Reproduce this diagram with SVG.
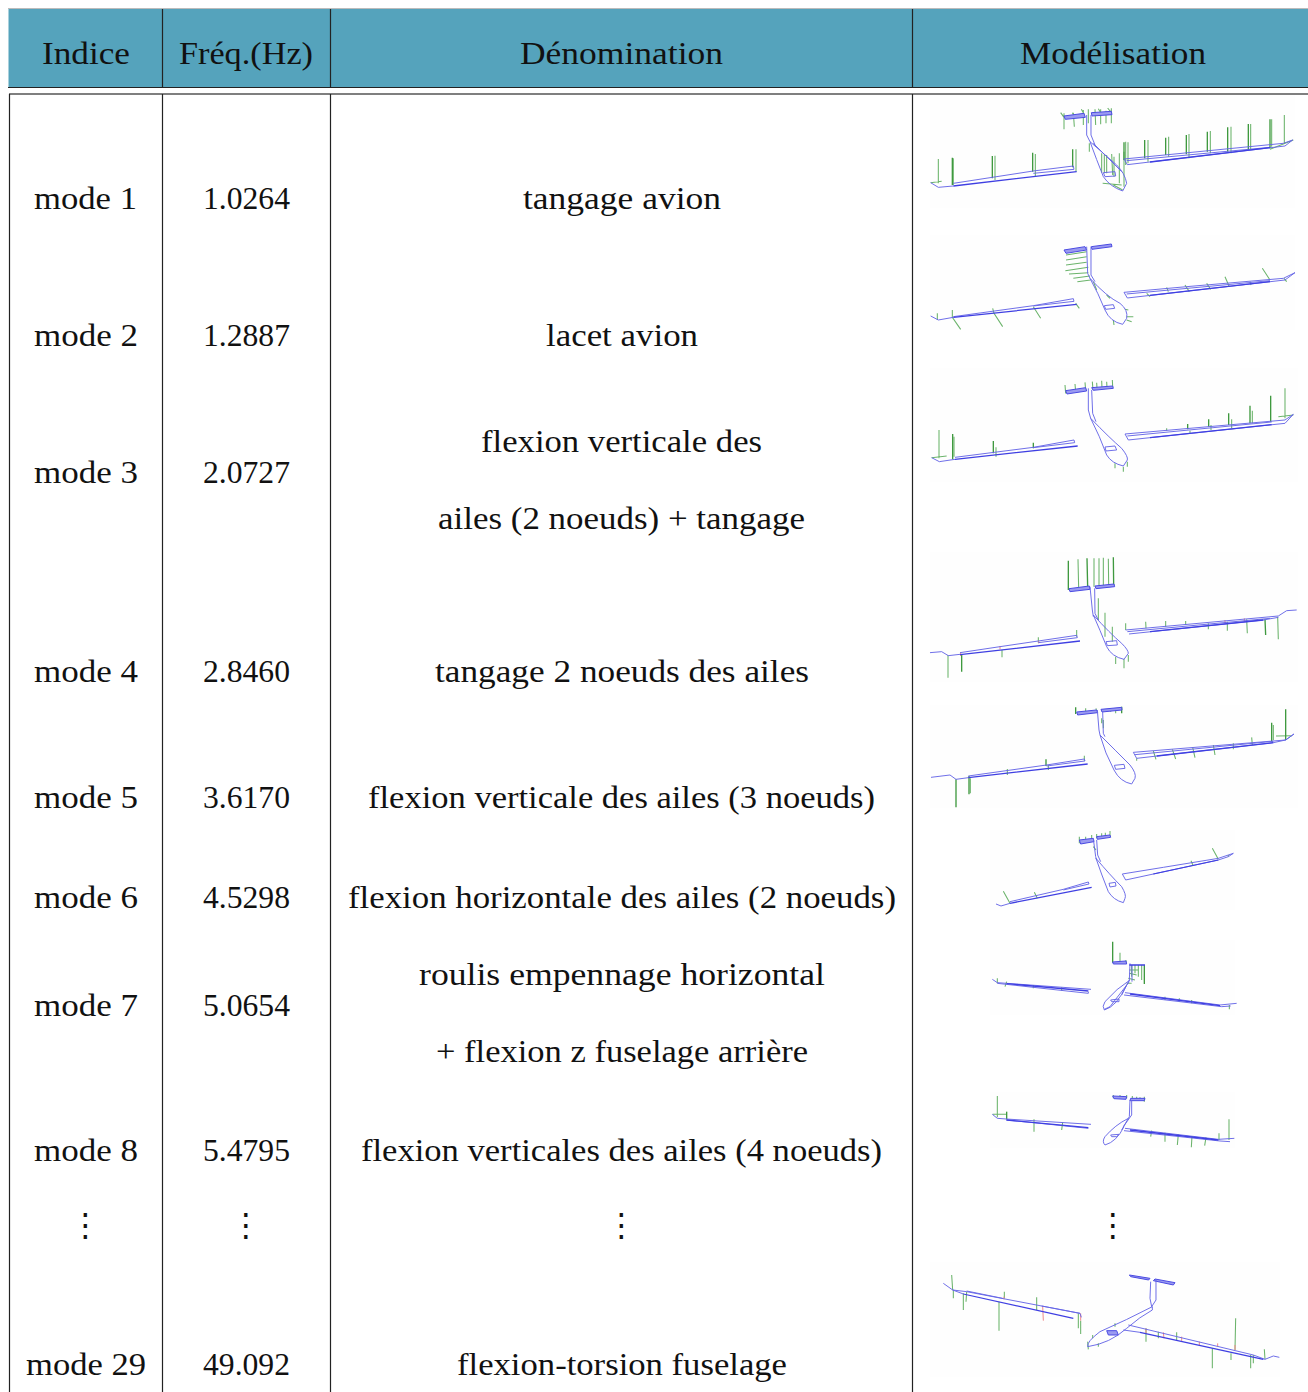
<svg xmlns="http://www.w3.org/2000/svg" width="1308" height="1392" viewBox="0 0 1308 1392">
<style>
text{font-family:"Liberation Serif","Times New Roman",serif;font-size:32px;fill:#111;text-anchor:start}
.d{font-family:"DejaVu Sans",sans-serif;font-size:32px;text-anchor:middle}
.rule{stroke:#222;stroke-width:1.2;fill:none}
.b{fill:none;stroke:#6464e6;stroke-width:2.8;stroke-linejoin:round}
.k{fill:none;stroke:#3f3fe2;stroke-width:3.8}
.t{fill:#9a9af0;stroke:#4a4ae2;stroke-width:3}
.g{fill:none;stroke:#6cb46c;stroke-width:3.2}
.h{fill:none;stroke:#3f993f;stroke-width:4}
.r{fill:none;stroke:#f08a8a;stroke-width:3}
.bg{fill:#fefefe}
</style>
<rect width="1308" height="1392" fill="#fff"/>
<g id="header">
<rect x="8.5" y="9" width="1299.5" height="78" fill="#55a3bc"/>
<path d="M8 8.5H1308" stroke="#bbb" stroke-width="1" fill="none"/>
<path class="rule" d="M8 87.5H1308M162.5 9V87M330.5 9V87M912.5 9V87"/>
<text x="42" y="64" textLength="88" lengthAdjust="spacingAndGlyphs">Indice</text>
<text x="179" y="64" textLength="134" lengthAdjust="spacingAndGlyphs">Fréq.(Hz)</text>
<text x="520" y="64" textLength="203" lengthAdjust="spacingAndGlyphs">Dénomination</text>
<text x="1020" y="64" textLength="186" lengthAdjust="spacingAndGlyphs">Modélisation</text>
</g>
<g id="grid">
<path d="M9 94H1308" stroke="#555" stroke-width="1.4" fill="none"/>
<path class="rule" d="M9.5 94V1392M162.5 94V1392M330.5 94V1392M912.5 94V1392"/>
</g>
<g id="mode1">
<text x="34" y="209" textLength="103" lengthAdjust="spacingAndGlyphs">mode 1</text>
<text x="203" y="209" textLength="87" lengthAdjust="spacingAndGlyphs">1.0264</text>
<text x="523" y="209" textLength="198" lengthAdjust="spacingAndGlyphs">tangage avion</text>
</g>
<g id="mode2">
<text x="34" y="346" textLength="104" lengthAdjust="spacingAndGlyphs">mode 2</text>
<text x="203" y="346" textLength="87" lengthAdjust="spacingAndGlyphs">1.2887</text>
<text x="546" y="346" textLength="152" lengthAdjust="spacingAndGlyphs">lacet avion</text>
</g>
<g id="mode3">
<text x="34" y="483" textLength="104" lengthAdjust="spacingAndGlyphs">mode 3</text>
<text x="203" y="483" textLength="87" lengthAdjust="spacingAndGlyphs">2.0727</text>
<text x="481" y="452" textLength="281" lengthAdjust="spacingAndGlyphs">flexion verticale des</text>
<text x="438" y="529" textLength="367" lengthAdjust="spacingAndGlyphs">ailes (2 noeuds) + tangage</text>
</g>
<g id="mode4">
<text x="34" y="682" textLength="104" lengthAdjust="spacingAndGlyphs">mode 4</text>
<text x="203" y="682" textLength="87" lengthAdjust="spacingAndGlyphs">2.8460</text>
<text x="435" y="682" textLength="374" lengthAdjust="spacingAndGlyphs">tangage 2 noeuds des ailes</text>
</g>
<g id="mode5">
<text x="34" y="808" textLength="104" lengthAdjust="spacingAndGlyphs">mode 5</text>
<text x="203" y="808" textLength="87" lengthAdjust="spacingAndGlyphs">3.6170</text>
<text x="368" y="808" textLength="507" lengthAdjust="spacingAndGlyphs">flexion verticale des ailes (3 noeuds)</text>
</g>
<g id="mode6">
<text x="34" y="908" textLength="104" lengthAdjust="spacingAndGlyphs">mode 6</text>
<text x="203" y="908" textLength="87" lengthAdjust="spacingAndGlyphs">4.5298</text>
<text x="348" y="908" textLength="548" lengthAdjust="spacingAndGlyphs">flexion horizontale des ailes (2 noeuds)</text>
</g>
<g id="mode7">
<text x="34" y="1016" textLength="104" lengthAdjust="spacingAndGlyphs">mode 7</text>
<text x="203" y="1016" textLength="87" lengthAdjust="spacingAndGlyphs">5.0654</text>
<text x="419" y="985" textLength="406" lengthAdjust="spacingAndGlyphs">roulis empennage horizontal</text>
<text x="436" y="1062" textLength="372" lengthAdjust="spacingAndGlyphs">+ flexion z fuselage arrière</text>
</g>
<g id="mode8">
<text x="34" y="1161" textLength="104" lengthAdjust="spacingAndGlyphs">mode 8</text>
<text x="203" y="1161" textLength="87" lengthAdjust="spacingAndGlyphs">5.4795</text>
<text x="361" y="1161" textLength="521" lengthAdjust="spacingAndGlyphs">flexion verticales des ailes (4 noeuds)</text>
</g>
<g id="dots">
<text class="d" x="85.5" y="1236">⋮</text>
<text class="d" x="246" y="1236">⋮</text>
<text class="d" x="621.5" y="1236">⋮</text>
<text class="d" x="1113" y="1236">⋮</text>
</g>
<g id="mode29">
<text x="26" y="1375" textLength="120" lengthAdjust="spacingAndGlyphs">mode 29</text>
<text x="203" y="1375" textLength="87" lengthAdjust="spacingAndGlyphs">49.092</text>
<text x="457" y="1375" textLength="330" lengthAdjust="spacingAndGlyphs">flexion-torsion fuselage</text>
</g>
<g id="plane1" transform="translate(920 90) scale(.33333)">
<rect class="bg" x="30" y="15" width="1095" height="340"/>
<path class="g" d="M55 207V280M100 205V285M225 197V270M346 192V258M468 178V245M1093 75V160M1055 88V170M992 102V178M933 110V190M871 123V190M807 132V205M746 140V200M684 150V215M624 157V220M617 155V225M432 70V118M460 68L463 110M490 60V105M505 58V100M525 58L527 105M542 58V103M558 62V100M574 55V100M545 190V248M553 193V250M560 195V250M575 192L578 255M582 200V260M598 190V280M612 185V290M508 160V185M548 280L605 285M580 285L608 300M32 278L65 274M1050 178L1120 150M422 68L432 82M457 68L465 82M484 58L492 72M535 56L543 70M563 54L574 68"/>
<path class="h" d="M97 203V285M217 198V265M338 188V245M458 178V232M1050 88V175M985 102V180M923 112V185M862 125V185M799 135V193M737 143V195M674 150V205M612 157V210"/>
<path class="t" d="M432 78L492 70L496 82L436 88ZM514 68L574 64L576 74L516 78Z"/>
<path class="b" d="M32 278L55 292L100 288M100 280L340 243L460 228L462 238L340 250M612 207L1090 160L1118 150L1095 168L622 224L612 207M620 212L1050 172M500 75V135L510 155M513 75V135L525 165M510 155L590 225Q615 250 620 280L608 303Q570 290 550 260Q530 210 510 155ZM520 160L605 245M550 248L585 245L587 258L555 260Z"/>
<path class="k" d="M100 288L470 245M690 216L1050 173"/>
</g>
<g id="plane2" transform="translate(920 90) scale(.33333)">
<rect class="bg" x="30" y="435" width="1095" height="285"/>
<path class="g" d="M438 495L500 485M438 510L500 500M438 525L500 517M436 542L505 532M447 552L505 548M460 565L510 558M472 575L512 570M97 660V682L122 718M218 655L222 670L248 710M340 650L362 685M467 640L478 655M52 670V690M1027 535L1050 570M915 560L928 590M795 585L808 605M860 580L872 598M680 610L690 620M740 592L745 605M990 575L993 585M1092 565L1100 575M615 658L625 660M620 680H640M620 690L635 695M580 690L582 705M520 575L530 600M560 615L570 625"/>
<path class="t" d="M514 470L574 462L576 470L516 478ZM432 480L495 470L500 480L438 490Z"/>
<path class="b" d="M32 678L55 690L100 682M100 680L340 647L460 626L462 634L340 648M612 607L800 590L1090 565L1125 548L1095 570L622 624L612 607M620 612L1050 572M500 470L503 550L510 565M513 470V555L525 575M510 565Q560 620 600 640Q625 660 620 685L608 703Q570 695 555 660Q535 610 510 565ZM553 647L580 644L584 655L557 658Z"/>
<path class="k" d="M100 682L470 643M690 616L1050 575"/>
</g>
<g id="plane3" transform="translate(920 360) scale(.33333)">
<rect class="bg" x="30" y="25" width="1105" height="340"/>
<path class="g" d="M57 210V295M102 230V290M228 262V290M1095 85V175M997 152V190M935 178V205M873 195V210M810 212V220M740 205V212M435 75L437 100M465 72L467 95M495 67L497 90M517 65L519 90M530 68L531 85M545 62L546 85M560 65L561 83M577 60L578 80M35 293L80 288M1075 170L1120 165M585 310V325M610 320V335M622 305V320"/>
<path class="h" d="M98 222V298M220 243V280M340 248V265M1052 107V185M990 137V190M926 160V195M866 178V200M803 192V208"/>
<path class="t" d="M437 92L497 83L500 93L441 102ZM515 83L578 78L580 85L520 91Z"/>
<path class="b" d="M35 293L58 305L105 298M105 292L340 262L462 240L464 248L340 263M615 222L1095 180L1120 163L1095 190L625 240L615 222M622 228L1055 186M505 85V150L512 175M515 90L518 160L528 185M512 175Q570 235 605 265Q625 290 622 300L610 318Q575 310 560 285Q540 230 512 175ZM555 261L585 258L590 270L558 273Z"/>
<path class="k" d="M105 298L473 258M690 233L1055 194"/>
</g>
<g id="plane4" transform="translate(920 360) scale(.33333)">
<rect class="bg" x="30" y="575" width="1105" height="390"/>
<path class="g" d="M474 598L476 685M522 595V680M537 595V680M550 593V678M565 596L566 675M84 885V953M246 870V892M355 832V848M470 810V830M1073 770L1075 838M980 778L982 820M922 785V812M865 790V808M797 783V795M737 783V800M677 785L678 805M617 790V810M535 715V780M555 758V830M577 800V845M587 890V912M612 897V925M625 885V905"/>
<path class="h" d="M445 602V690M501 595L503 680M580 592L581 675M125 882V935M1035 778L1037 825"/>
<path class="r" d="M240 858V868M356 842V850M122 878V888M915 780V790M973 775V785"/>
<path class="t" d="M447 686L508 678L510 688L450 695ZM525 678L582 672L584 680L528 686Z"/>
<path class="b" d="M30 878L65 875L85 887L120 883M120 878L240 860L355 843L470 826L472 833L355 848M617 810L1075 768L1100 752L1130 750M627 822L1030 780L1075 772M622 815L1050 775M510 680L517 750L520 770M524 685L525 760L535 780M520 765Q570 820 605 850Q625 870 625 880L612 898Q575 890 560 860Q540 810 520 765ZM558 845L590 842L592 855L562 857Z"/>
<path class="k" d="M120 884L480 843M690 815L1030 780"/>
</g>
<g id="plane5" transform="translate(920 690) scale(.33333)">
<rect class="bg" x="30" y="45" width="1105" height="310"/>
<path class="g" d="M151 265V310M262 237V255M385 225V240M493 197V212M1060 105V150M995 142L997 165M940 160V178M880 165L885 195M818 172L825 203M757 178L767 207M700 183L708 208M650 205V212M1068 138L1115 137M497 55V65M528 55L530 68M572 55V65M587 55V70M545 85V100M550 90V115"/>
<path class="h" d="M108 268V352M147 258V313M378 208V228M1097 58V150M1055 98V155M467 52V72M605 50V70"/>
<path class="t" d="M470 66L530 60L533 68L473 75ZM543 58L605 52L606 60L546 66Z"/>
<path class="b" d="M33 262L90 255L108 268L145 263M145 258L380 225L493 207L495 213L380 228M640 187L1097 150L1122 132L1097 150L1060 158L650 205L640 187M645 194L1060 154M532 60L537 120L540 135M548 65L550 130L555 140M540 135Q590 185 630 225Q650 250 645 265L635 282Q600 275 582 240Q555 190 540 135ZM583 226L612 223L615 235L587 238Z"/>
<path class="k" d="M145 263L503 222M710 198L1060 158"/>
</g>
<g id="plane6" transform="translate(920 690) scale(.33333)">
<rect class="bg" x="210" y="420" width="735" height="240"/>
<path class="g" d="M250 604L270 640M343 607L352 625M877 475L895 508M813 512L820 528M925 495V500M478 440V460M497 440V452M515 435V450M530 432V445M545 430V445M556 428V442M570 423V440M520 470L528 480"/>
<path class="t" d="M478 450L520 445L522 455L482 462ZM530 440L570 435L572 442L532 448Z"/>
<path class="b" d="M228 642L243 648L270 640M270 635L430 598L505 576L507 582L430 600M607 552L730 532L895 505L940 490L925 500L895 510L617 570L607 552M520 446L527 500L530 510M530 450L533 495L542 515M528 505Q570 555 605 590Q620 615 615 625L610 638Q580 630 565 605Q545 555 528 505ZM567 580L586 577L588 588L570 591Z"/>
<path class="k" d="M270 640L515 592M700 552L895 510"/>
</g>
<g id="plane7" transform="translate(920 690) scale(.33333)">
<rect class="bg" x="210" y="750" width="735" height="225"/>
<path class="g" d="M600 788V815M618 810V820M665 825V870M655 825V860M645 825V850M635 825V860M628 840H655M628 850L650 855M625 865L645 870M620 880H635M232 865V880M260 875L255 890M928 945V958M340 885V895M425 892V902M735 920V930M815 930V940M778 925V935"/>
<path class="h" d="M578 755V818M673 825V882"/>
<path class="t" d="M578 816L618 813L620 822L580 822Z"/>
<path class="b" d="M217 868L232 878L260 880L513 898M232 880L340 892L505 910L505 905M615 908L900 945L950 940M612 915L780 935L905 950L932 948M630 820L628 870L605 915M636 825V875M630 870Q590 895 555 935Q545 950 553 960Q590 950 620 885M628 875L570 950L553 958M572 930L597 927L597 935L575 935Z"/>
<path class="k" d="M260 881L505 903M630 912L900 947M628 825H675"/>
</g>
<g id="plane8" transform="translate(920 1080) scale(.33333)">
<rect class="bg" x="210" y="35" width="735" height="170"/>
<path class="g" d="M232 48V112M218 103H260M342 118V155M428 127L425 150M927 118V180M897 160V180M858 172L854 197M816 168L814 202M775 163L772 195M735 158V185M695 152L692 170M580 45V55M600 45V55M620 45V55M637 48V60M650 50V60M660 52V60M673 50V65"/>
<path class="h" d="M260 95V118"/>
<path class="t" d="M578 48L620 50L618 58L582 56ZM632 55L675 55L673 62L630 62Z"/>
<path class="b" d="M217 103L232 115L258 117L513 133M258 120L340 128L505 145M615 145L895 178L943 175M612 152L780 170L900 183L930 185M630 60L628 110L605 150M635 60V105L610 140M625 115Q585 135 555 170Q545 185 555 195Q590 185 612 140M572 165L597 163L590 170L575 170Z"/>
<path class="k" d="M260 120L505 143M630 150L895 180"/>
</g>
<g id="plane9" transform="translate(920 1080) scale(.33333)">
<rect class="bg" x="30" y="545" width="1050" height="345"/>
<path class="g" d="M95 585L98 630M100 630V655M130 640V690M140 635L138 665M237 665V752M253 635V655M350 652V690M947 715L945 810M1033 808L1035 838M1000 825V850M992 825V865M877 805V865M933 820V840M770 757V780M715 755V775M678 745V785M503 785L505 808M535 790V800M518 765V775M585 730V740M475 700V745M482 722V762"/>
<path class="r" d="M368 678L370 722M482 700V722M678 745V760M730 757L732 775M785 770V785M893 790V800M838 785V795M945 795V810M252 650V658"/>
<path class="t" d="M628 585L690 595L686 600L632 590ZM705 597L765 608L760 615L700 602ZM560 752L590 752L595 765L565 765Z"/>
<path class="b" d="M70 610L98 630L140 635L480 700M98 630L130 642M140 633L248 655M365 678L480 700L484 712M625 735L1000 825L1035 838L1060 828L1078 832M610 750L660 757M692 605L690 655L695 680M708 600V660L695 680M697 680Q620 720 540 755Q500 785 503 800Q570 790 620 745Q660 710 697 690Z"/>
<path class="k" d="M130 642L460 715M660 757L1030 838"/>
</g>
</svg>
